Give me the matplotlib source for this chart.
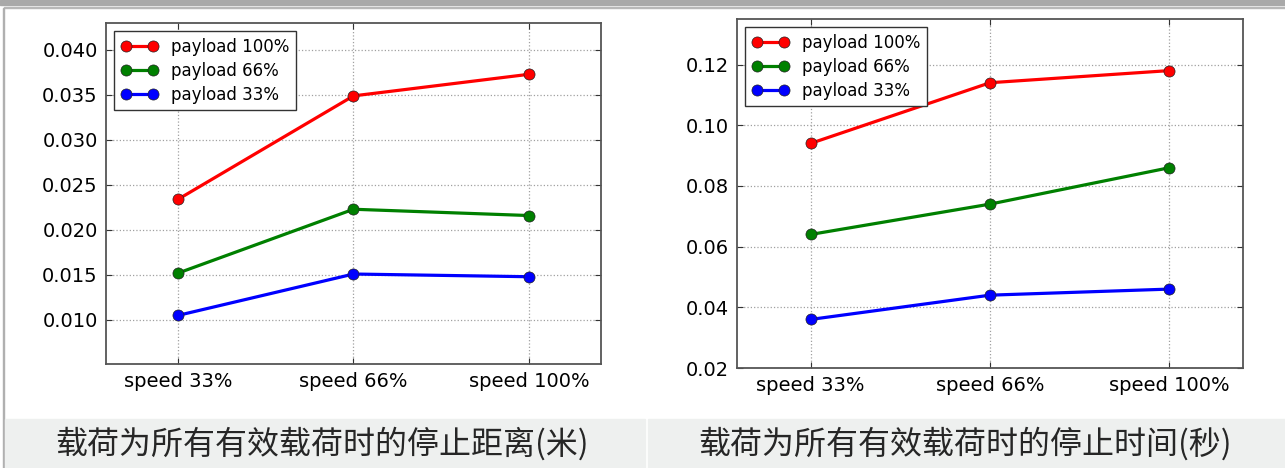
import matplotlib
matplotlib.use("Agg")
import matplotlib.pyplot as plt
from matplotlib.patches import Rectangle

plt.rcParams['font.family'] = ['DejaVu Sans', 'Noto Sans CJK SC']

speeds = ["speed 33%", "speed 66%", "speed 100%"]
series_names = ["payload 100%", "payload 66%", "payload 33%"]
series_colors = ["#ff0000", "#008000", "#0000ff"]

dist_100 = [0.0234, 0.0349, 0.0373]
dist_66 = [0.0152, 0.0223, 0.0216]
dist_33 = [0.0105, 0.0151, 0.0148]

time_100 = [0.094, 0.114, 0.118]
time_66 = [0.064, 0.074, 0.086]
time_33 = [0.036, 0.044, 0.046]

dist_yticks = [0.010, 0.015, 0.020, 0.025, 0.030, 0.035, 0.040]
time_yticks = [0.02, 0.04, 0.06, 0.08, 0.10, 0.12]

caption_left = "载荷为所有有效载荷时的停止距离(米)"
caption_right = "载荷为所有有效载荷时的停止时间(秒)"

W, H = 1285, 468
fig = plt.figure(figsize=(W / 100, H / 100), dpi=100)

def fx(px):
    return px / W

def fy(py):
    return 1 - py / H

# decorations (page frame)
fig.patches.append(Rectangle((0, fy(5)), 1, 5 / H, transform=fig.transFigure,
                             color="#a9a9a9", zorder=0))
fig.patches.append(Rectangle((fx(4), fy(8)), 1 - fx(4), 1.3 / H, transform=fig.transFigure,
                             color="#b8b8b8", zorder=0))
fig.patches.append(Rectangle((fx(2.8), 0), 1.6 / W, fy(8), transform=fig.transFigure,
                             color="#b0b0b0", zorder=0))
fig.patches.append(Rectangle((fx(5), 0), fx(645) - fx(5), 49 / H, transform=fig.transFigure,
                             color="#eef0ef", zorder=0))
fig.patches.append(Rectangle((fx(647.5), 0), 1 - fx(647.5), 49 / H, transform=fig.transFigure,
                             color="#eef0ef", zorder=0))

fig.text(fx(322), fy(444), caption_left, ha="center", va="center", fontsize=23,
         family=['Noto Sans CJK SC', 'DejaVu Sans'], color="#262626", fontweight="light")
fig.text(fx(965), fy(444), caption_right, ha="center", va="center", fontsize=23,
         family=['Noto Sans CJK SC', 'DejaVu Sans'], color="#262626", fontweight="light")

ax1 = fig.add_axes([fx(106), fy(364), fx(601) - fx(106), (364 - 23) / H])
ax2 = fig.add_axes([fx(737), fy(368), fx(1243) - fx(737), (368 - 19) / H])

x = list(range(len(speeds)))

def style(ax, ys_list, yticks, ylim, fmt):
    for ys, name, c in zip(ys_list, series_names, series_colors):
        ax.plot(x, ys, color=c, lw=2.3, marker="o", markersize=8,
                markerfacecolor=c, markeredgecolor="#222222", markeredgewidth=0.5,
                label=name, zorder=3)
    ax.set_xlim(-0.41, 2.41)
    ax.set_ylim(*ylim)
    ax.set_xticks(x)
    ax.set_xticklabels(speeds, fontsize=14)
    ax.set_yticks(yticks)
    ax.set_yticklabels([fmt.format(v) for v in yticks], fontsize=14)
    ax.grid(True, color="#a0a0a0", linestyle=":", linewidth=0.9)
    ax.tick_params(direction="in", length=4, width=0.8, top=True, right=True,
                   color="#333333", pad=6)
    for s in ax.spines.values():
        s.set_color("#555555")
        s.set_linewidth(1.3)
    leg = ax.legend(loc="upper left", numpoints=2, fontsize=12, fancybox=False,
                    framealpha=1, edgecolor="#333333", handlelength=2.2,
                    borderpad=0.4, labelspacing=0.35, handletextpad=0.8,
                    borderaxespad=0.5)
    leg.get_frame().set_linewidth(1.0)

style(ax1, [dist_100, dist_66, dist_33], dist_yticks, (0.0051, 0.0430), "{:.3f}")
style(ax2, [time_100, time_66, time_33], time_yticks, (0.02, 0.135), "{:.2f}")

fig.savefig("out.png", dpi=100)
